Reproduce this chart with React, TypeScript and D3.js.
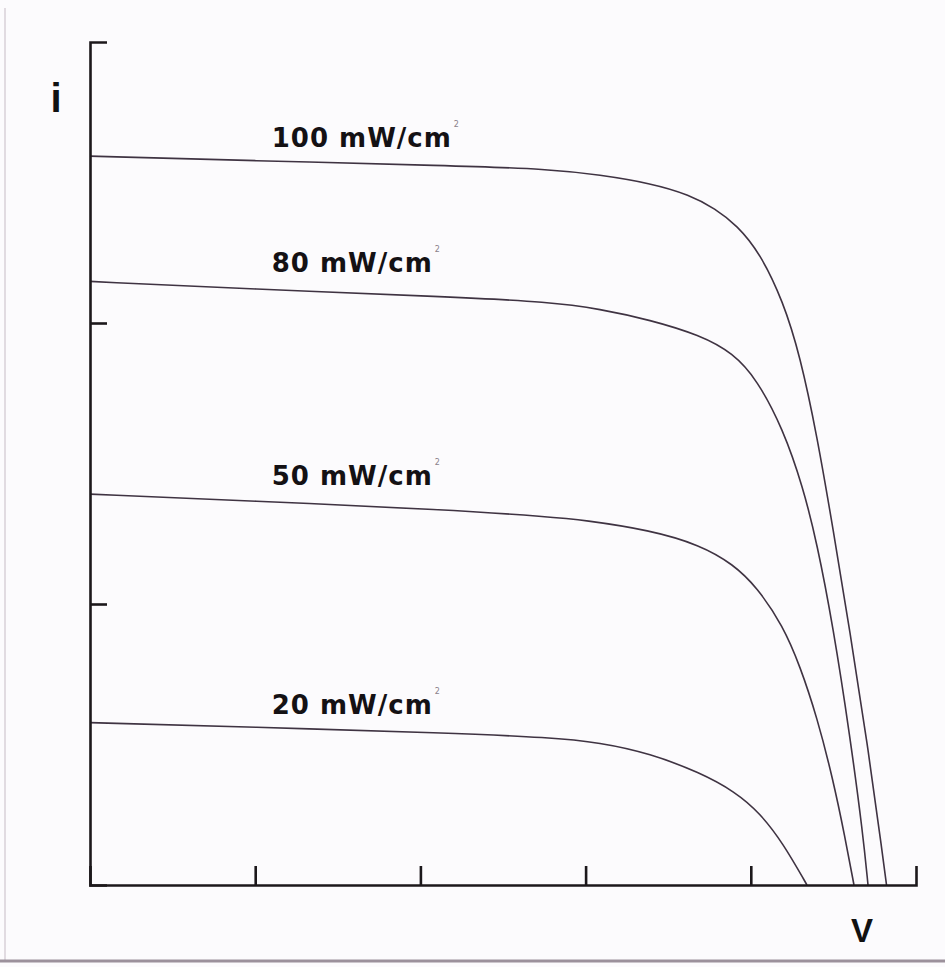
import React, { useEffect, useRef } from "react";
import * as d3 from "d3";

// I–V characteristics of a solar cell at four irradiance levels
const IRRADIANCE = [100, 80, 50, 20];
const UNIT = "mW/cm";

const V_100 = [0, 1.937, 4.358, 5.569, 6.174, 6.78, 7.264, 7.567, 7.833, 8.111, 8.39, 8.596, 8.801, 8.995, 9.201, 9.407, 9.6, 9.643];
const I_100 = [2.594, 2.578, 2.56, 2.548, 2.527, 2.498, 2.456, 2.407, 2.348, 2.249, 2.078, 1.884, 1.6, 1.269, 0.9, 0.513, 0.098, 0];

const V_80 = [0, 1.937, 4.358, 5.569, 6.174, 6.78, 7.385, 7.785, 8.075, 8.39, 8.632, 8.801, 8.995, 9.201, 9.358, 9.419];
const I_80 = [2.148, 2.121, 2.093, 2.075, 2.05, 2.011, 1.957, 1.893, 1.799, 1.623, 1.416, 1.217, 0.922, 0.53, 0.181, 0];

const V_50 = [0, 1.937, 4.358, 5.569, 5.969, 6.78, 7.385, 7.785, 8.075, 8.39, 8.596, 8.801, 8.995, 9.14, 9.249];
const I_50 = [1.391, 1.367, 1.335, 1.31, 1.299, 1.263, 1.21, 1.142, 1.06, 0.922, 0.779, 0.598, 0.376, 0.171, 0];

const V_20 = [0, 1.937, 4.358, 5.569, 6.174, 6.78, 7.385, 7.809, 8.111, 8.39, 8.68];
const I_20 = [0.578, 0.562, 0.541, 0.525, 0.507, 0.468, 0.4, 0.332, 0.256, 0.149, 0];

const X_TICKS = [2, 4, 6, 8];
const Y_TICKS = [1, 2];
const X_LABEL = "V";
const Y_LABEL = "i";

const W = 945;
const H = 967;

export default function App() {
  const ref = useRef<SVGSVGElement | null>(null);

  useEffect(() => {
    document.body.style.margin = "0";
    const svg = d3.select(ref.current);
    svg.selectAll("*").remove();

    const x = d3.scaleLinear().domain([0, 10]).range([90, 916]);
    const y = d3.scaleLinear().domain([0, 3]).range([885, 42]);

    // paper background and frame
    svg.append("rect").attr("width", W).attr("height", H).attr("fill", "#fcfbfd");
    svg.append("line").attr("x1", 5).attr("x2", 5).attr("y1", 8).attr("y2", 961)
      .attr("stroke", "#cfc6cf").attr("stroke-width", 1.2);
    svg.append("line").attr("x1", 0).attr("x2", W).attr("y1", 961).attr("y2", 961)
      .attr("stroke", "#9c919c").attr("stroke-width", 3);

    const series = [
      { irr: IRRADIANCE[0], v: V_100, i: I_100 },
      { irr: IRRADIANCE[1], v: V_80, i: I_80 },
      { irr: IRRADIANCE[2], v: V_50, i: I_50 },
      { irr: IRRADIANCE[3], v: V_20, i: I_20 },
    ];

    const line = d3.line<[number, number]>()
      .x((d) => x(d[0]))
      .y((d) => y(d[1]))
      .curve(d3.curveBasis);

    const curves = svg.append("g");
    series.forEach((s) => {
      const pts = s.v.map((v, k) => [v, s.i[k]] as [number, number]);
      curves.append("path")
        .attr("d", line(pts))
        .attr("fill", "none")
        .attr("stroke", "#3f3342")
        .attr("stroke-width", 1.6);

      const lx = x(2.2);
      const ly = y(s.i[0]) - 9;
      const t = curves.append("text")
        .attr("x", lx)
        .attr("y", ly)
        .attr("font-family", "'DejaVu Sans', sans-serif")
        .attr("font-weight", "bold")
        .attr("font-size", 26)
        .attr("letter-spacing", 1)
        .attr("fill", "#141114")
        .text(`${s.irr} ${UNIT}`);
      const bb = (t.node() as SVGTextElement).getBBox();
      curves.append("text")
        .attr("x", bb.x + bb.width + 2)
        .attr("y", ly - 20)
        .attr("font-family", "'DejaVu Sans', sans-serif")
        .attr("font-size", 8)
        .attr("fill", "#8a7f8a")
        .text("2");
    });

    // axes: ticks drawn inward, caps at the far ends
    const gx = svg.append("g").attr("transform", `translate(0,${y(0)})`)
      .call(d3.axisBottom(x).tickValues(X_TICKS).tickSizeInner(-19).tickSizeOuter(-19).tickFormat(() => ""));
    const gy = svg.append("g").attr("transform", `translate(${x(0)},0)`)
      .call(d3.axisLeft(y).tickValues(Y_TICKS).tickSizeInner(-17).tickSizeOuter(-17).tickFormat(() => ""));
    [gx, gy].forEach((g) => {
      g.selectAll("text").remove();
      g.selectAll("path, line").attr("stroke", "#1c181b").attr("stroke-width", 2.6);
      g.select(".domain").attr("fill", "none");
    });

    svg.append("text")
      .attr("x", 56).attr("y", 112)
      .attr("text-anchor", "middle")
      .attr("font-family", "'Liberation Sans', Arial, sans-serif")
      .attr("font-weight", "bold")
      .attr("font-size", 40)
      .attr("fill", "#111")
      .text(Y_LABEL);
    svg.append("text")
      .attr("x", 862).attr("y", 942)
      .attr("text-anchor", "middle")
      .attr("font-family", "'Liberation Sans', Arial, sans-serif")
      .attr("font-weight", "bold")
      .attr("font-size", 33)
      .attr("fill", "#111")
      .text(X_LABEL);
  }, []);

  return <svg ref={ref} width={W} height={H} style={{ display: "block" }} />;
}
